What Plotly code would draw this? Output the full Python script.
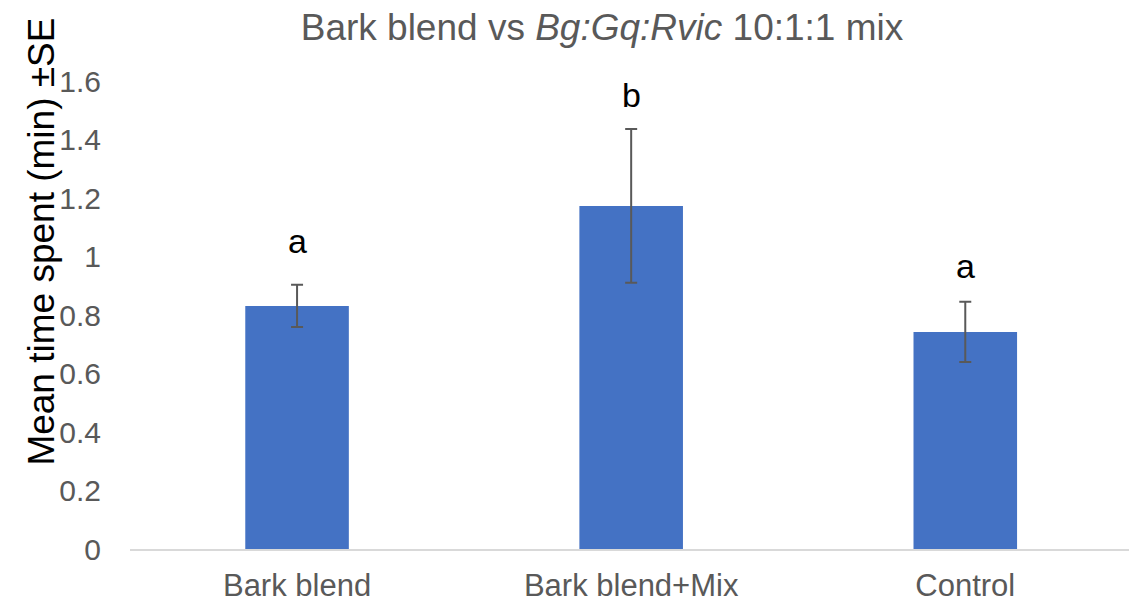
import plotly.graph_objects as go

# Treatment groups and their mean time spent (min) with standard errors
categories = ["Bark blend", "Bark blend+Mix", "Control"]
mean_time = [0.831, 1.173, 0.742]
std_err = [0.072, 0.263, 0.103]
letters = ["a", "b", "a"]
letter_y = [1.053, 1.552, 0.968]
y_ticks = [0, 0.2, 0.4, 0.6, 0.8, 1.0, 1.2, 1.4, 1.6]

FONT = "Liberation Sans, Arial, sans-serif"
GRAY = "#595959"

fig = go.Figure()
fig.add_trace(go.Bar(
    x=categories,
    y=mean_time,
    width=0.31,
    marker=dict(color="#4472C4", line=dict(width=0)),
    error_y=dict(type="data", array=std_err, visible=True,
                 color=GRAY, thickness=2, width=6),
    showlegend=False,
))

# Significance letters above each bar
for cat, letter, ly in zip(categories, letters, letter_y):
    fig.add_annotation(x=cat, y=ly, text=letter, showarrow=False,
                       xref="x", yref="y", yanchor="middle",
                       font=dict(family=FONT, size=34, color="black"))

# Y axis title
fig.add_annotation(text="Mean time spent (min) ±SE",
                   xref="x domain", yref="y domain", x=-0.089, y=0.657,
                   xanchor="center", yanchor="middle",
                   showarrow=False, textangle=-90,
                   font=dict(family=FONT, size=37, color="black"))

fig.update_layout(
    width=1129, height=602,
    margin=dict(l=130, r=0, t=81, b=53),
    plot_bgcolor="white", paper_bgcolor="white",
    title=dict(text="Bark blend vs <i>Bg:Gq:Rvic</i> 10:1:1 mix",
               x=602 / 1129, xanchor="center", y=1 - 27 / 602, yanchor="middle",
               font=dict(family=FONT, size=37, color=GRAY)),
    xaxis=dict(range=[-0.5, 2.49], showline=True, linecolor="#D9D9D9", linewidth=2,
               showgrid=False, ticks="", ticklabelstandoff=8, automargin=False,
               tickfont=dict(family=FONT, size=31, color=GRAY)),
    yaxis=dict(range=[0, 1.6], tickvals=y_ticks, showgrid=False,
               zeroline=False, showline=False, ticks="", automargin=False,
               ticklabelstandoff=28,
               tickfont=dict(family=FONT, size=30, color=GRAY)),
)

fig.write_html("out.html")
